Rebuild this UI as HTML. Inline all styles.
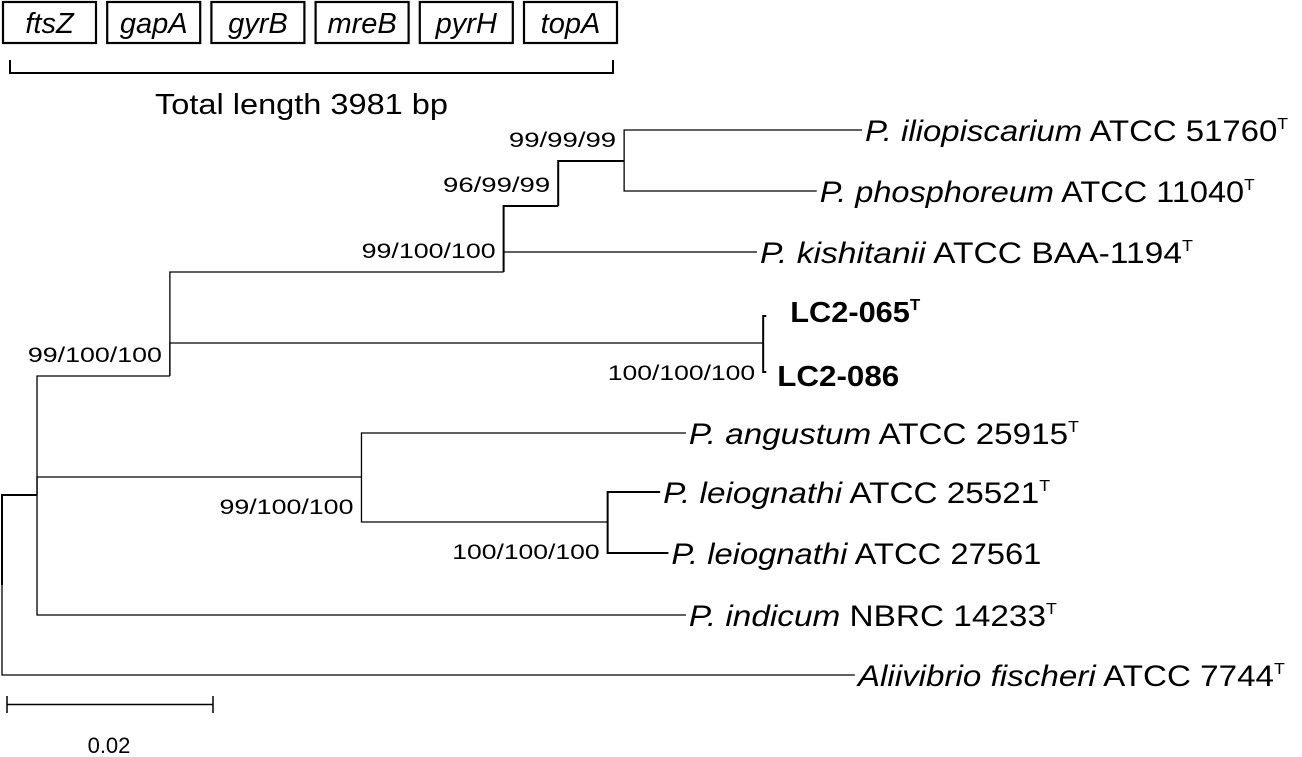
<!DOCTYPE html>
<html><head><meta charset="utf-8">
<style>
html,body{margin:0;padding:0;background:#fff;}
svg{display:block;font-family:"Liberation Sans",Arial,sans-serif;}
</style></head>
<body>
<svg id="tree" width="1302" height="757" viewBox="0 0 1302 757" xmlns="http://www.w3.org/2000/svg">
  <g id="genes"></g>
  <path d="M10,60 V73 H613 V60" fill="none" stroke="#000" stroke-width="2"/>
  <text x="155" y="114" font-size="29" textLength="293" lengthAdjust="spacingAndGlyphs">Total length 3981 bp</text>
  <g id="edges" stroke="#000" fill="none"></g>
  <g id="labels"></g>
  <g id="boots"></g>
  <path d="M7,696 V713 M7,704.5 H213 M213,696 V713" stroke="#000" stroke-width="1.5" fill="none"/>
  <text x="109" y="753" font-size="22" text-anchor="middle">0.02</text>
</svg>
<script>
const NS="http://www.w3.org/2000/svg";
const genes=["ftsZ","gapA","gyrB","mreB","pyrH","topA"];
const nodeIds=["root","ingroup","n1","n2","n3","n4","ilio","phos","kish","lc2","lc065","lc086","n5","ang","n6","leio1","leio2","ind","alii"];
const nodeParent=[-1,0,1,2,3,4,5,5,3,2,9,9,1,12,12,14,14,1,0];
const nodeDepth=[0,0.0034,0.0163,0.0487,0.054,0.0604,0.0835,0.0791,0.0733,0.0739,0.0742,0.0742,0.0349,0.0664,0.0588,0.0639,0.0647,0.0664,0.0828];
const nodeY=[585,495,376,272,206,161,130,191,252,343,316,372,477,433,522,492,553,615,675];
const tipTexts={ilio:["P. iliopiscarium"," ATCC 51760",true,false],phos:["P. phosphoreum"," ATCC 11040",true,false],kish:["P. kishitanii"," ATCC BAA-1194",true,false],lc065:["","LC2-065",true,true],lc086:["","LC2-086",false,true],ang:["P. angustum"," ATCC 25915",true,false],leio1:["P. leiognathi"," ATCC 25521",true,false],leio2:["P. leiognathi"," ATCC 27561",false,false],ind:["P. indicum"," NBRC 14233",true,false],alii:["Aliivibrio fischeri"," ATCC 7744",true,false]};
const tipWidth={ilio:423,phos:435,kish:433,lc065:130,lc086:122,ang:390,leio1:387,leio2:370,ind:368,alii:427};
const bootLabels=["99/100/100","99/100/100","96/99/99","99/99/99","100/100/100","99/100/100","100/100/100"];
const bootNodes=["n1","n2","n3","n4","lc2","n5","n6"];
const bootAbove=[true,true,true,true,false,false,false];
const xs=d=>2+d*10300;

const g=document.getElementById('genes');
genes.forEach((n,i)=>{
  const x=2+i*104.2;
  const r=document.createElementNS(NS,'rect');
  r.setAttribute('x',x+1);r.setAttribute('y',2);r.setAttribute('width',93);r.setAttribute('height',41);
  r.setAttribute('fill','#fff');r.setAttribute('stroke','#000');r.setAttribute('stroke-width','2.2');
  
  
  g.appendChild(r);
  const t=document.createElementNS(NS,'text');
  t.setAttribute('x',x+47.5);t.setAttribute('y',33);t.setAttribute('font-size','29');t.setAttribute('font-style','italic');t.setAttribute('text-anchor','middle');
  t.textContent=n;
  
  
  g.appendChild(t);
});

const e=document.getElementById('edges');
nodeIds.forEach((id,i)=>{
  const p=nodeParent[i];
  if(p<0)return;
  const px=xs(nodeDepth[p]),py=nodeY[p],x=xs(nodeDepth[i]),y=nodeY[i];
  const path=document.createElementNS(NS,'path');
  path.setAttribute('d',`M${px},${py} V${y} H${x}`);
  path.setAttribute('stroke-width', (x-px)>100?1.3:2);
  
  
  e.appendChild(path);
});

const L=document.getElementById('labels');
nodeIds.forEach((id,i)=>{
  const tt=tipTexts[id]; if(!tt)return;
  const t=document.createElementNS(NS,'text');
  const bold=tt[3];
  t.setAttribute('x',xs(nodeDepth[i])+(bold?(id==='lc065'?24:11):3));
  t.setAttribute('y',nodeY[i]+(bold?(id==='lc065'?6:14):11));
  t.setAttribute('font-size',bold?'29':'30');
  t.setAttribute('textLength',tipWidth[id]);
  t.setAttribute('lengthAdjust','spacingAndGlyphs');
  if(bold)t.setAttribute('font-weight','bold');
  if(tt[0]){const s=document.createElementNS(NS,'tspan');s.setAttribute('font-style','italic');s.textContent=tt[0];t.appendChild(s);}
  const s2=document.createElementNS(NS,'tspan');s2.textContent=tt[1];t.appendChild(s2);
  if(tt[2]){const s3=document.createElementNS(NS,'tspan');s3.setAttribute('font-size','16');s3.setAttribute('dy','-12');s3.textContent='T';t.appendChild(s3);}
  
  
  L.appendChild(t);
});

const B=document.getElementById('boots');
bootNodes.forEach((id,k)=>{
  const i=nodeIds.indexOf(id);
  const t=document.createElementNS(NS,'text');
  t.setAttribute('x',xs(nodeDepth[i])-8);
  const y=bootAbove[k]?nodeY[i]-14:nodeY[i]+37;
  t.setAttribute('y',y);
  t.setAttribute('font-size','21');t.setAttribute('text-anchor','end');
  const w=bootLabels[k].length*13.4;
  t.setAttribute('textLength',w);
  t.setAttribute('lengthAdjust','spacingAndGlyphs');
  t.textContent=bootLabels[k];
  
  
  B.appendChild(t);
});
</script>
</body></html>
